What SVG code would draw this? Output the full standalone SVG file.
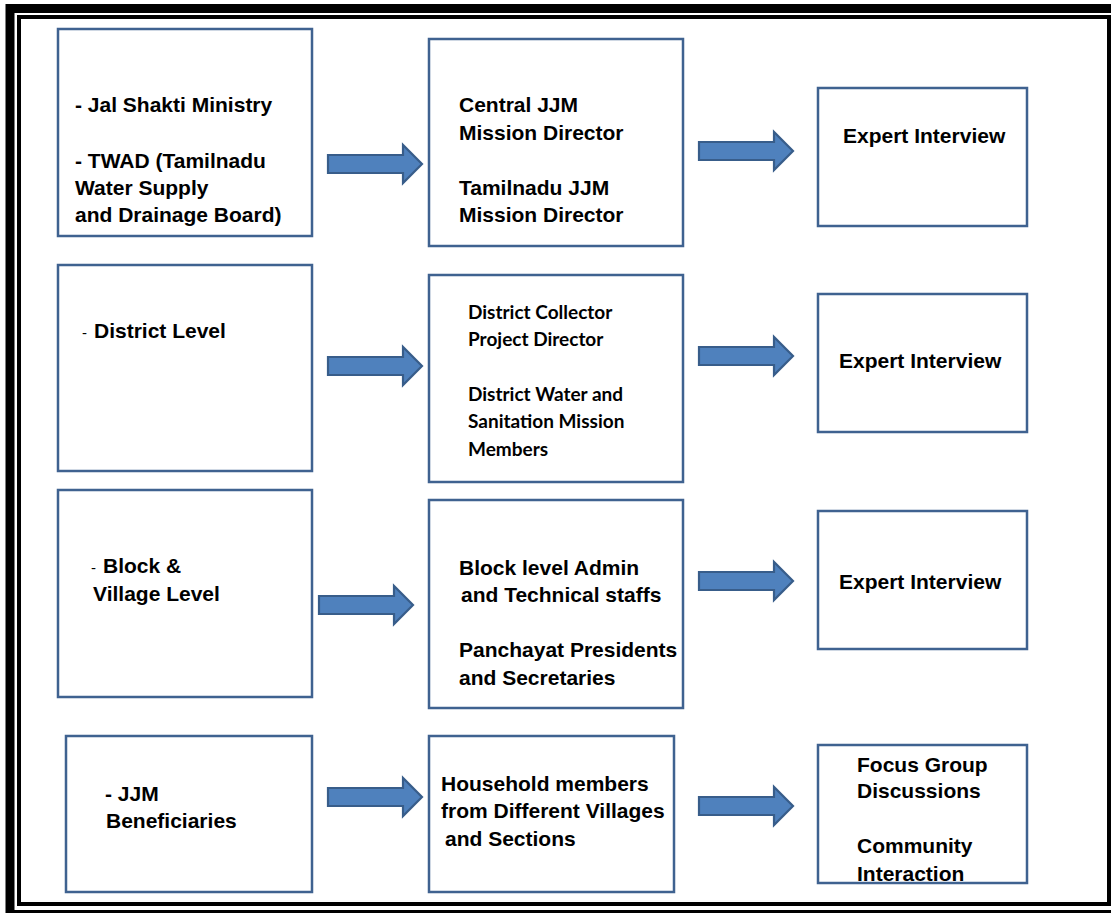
<svg xmlns="http://www.w3.org/2000/svg" width="1111" height="913" viewBox="0 0 1111 913">
<style>
.box{fill:#fff;stroke:#3F6290;stroke-width:2.5}
.arr{fill:#4F81BD;stroke:#385D8A;stroke-width:2.2;stroke-linejoin:miter}
.t{font-family:"Liberation Sans",Arial,sans-serif;font-weight:bold;font-size:21px;fill:#000}
.c{font-family:Lato,"Open Sans",sans-serif;font-weight:bold;font-size:19px;fill:#000}
.d{font-family:"Liberation Sans",Arial,sans-serif;font-size:15px;fill:#000}
</style>
<defs>
<path id="arrow" d="M0,-9 H75 V-19 L94,0 L75,19 V9 H0 Z"/>
</defs>
<rect width="1111" height="913" fill="#fff"/>
<g id="frame">
<rect x="10" y="8.5" width="1106" height="906" fill="none" stroke="#000" stroke-width="9"/>
<rect x="19" y="17" width="1090" height="887" fill="none" stroke="#000" stroke-width="4"/>
</g>

<g id="connectors">
<use href="#arrow" class="arr" x="328" y="164"/>
<use href="#arrow" class="arr" x="699" y="151"/>
<use href="#arrow" class="arr" x="328" y="366"/>
<use href="#arrow" class="arr" x="699" y="356"/>
<use href="#arrow" class="arr" x="319" y="605"/>
<use href="#arrow" class="arr" x="699" y="581"/>
<use href="#arrow" class="arr" x="328" y="797"/>
<use href="#arrow" class="arr" x="699" y="806"/>
</g>

<g id="n1a">
<rect class="box" x="58" y="29" width="254" height="207"/>
<text class="t" x="75" y="112">- Jal Shakti Ministry</text>
<text class="t" x="75" y="168">- TWAD (Tamilnadu</text>
<text class="t" x="75" y="195">Water Supply</text>
<text class="t" x="75" y="222">and Drainage Board)</text>
</g>
<g id="n1b">
<rect class="box" x="429" y="39" width="254" height="207"/>
<text class="t" x="459" y="112">Central JJM</text>
<text class="t" x="459" y="140">Mission Director</text>
<text class="t" x="459" y="195">Tamilnadu JJM</text>
<text class="t" x="459" y="222">Mission Director</text>
</g>
<g id="n1c">
<rect class="box" x="818" y="88" width="209" height="138"/>
<text class="t" x="843" y="143">Expert Interview</text>
</g>

<g id="n2a">
<rect class="box" x="58" y="265" width="254" height="206"/>
<text x="82" y="338"><tspan class="d">-</tspan><tspan class="t" x="94">District Level</tspan></text>
</g>
<g id="n2b">
<rect class="box" x="429" y="275" width="254" height="207"/>
<text class="c" x="468" y="319">District Collector</text>
<text class="c" x="468" y="346">Project Director</text>
<text class="c" x="468" y="401">District Water and</text>
<text class="c" x="468" y="428">Sanitation Mission</text>
<text class="c" x="468" y="456">Members</text>
</g>
<g id="n2c">
<rect class="box" x="818" y="294" width="209" height="138"/>
<text class="t" x="839" y="368">Expert Interview</text>
</g>

<g id="n3a">
<rect class="box" x="58" y="490" width="254" height="207"/>
<text x="91" y="573"><tspan class="d">-</tspan><tspan class="t" x="103">Block &amp;</tspan></text>
<text class="t" x="93" y="601">Village Level</text>
</g>
<g id="n3b">
<rect class="box" x="429" y="500" width="254" height="208"/>
<text class="t" x="459" y="575">Block level Admin</text>
<text class="t" x="461" y="602">and Technical staffs</text>
<text class="t" x="459" y="657">Panchayat Presidents</text>
<text class="t" x="459" y="685">and Secretaries</text>
</g>
<g id="n3c">
<rect class="box" x="818" y="511" width="209" height="138"/>
<text class="t" x="839" y="589">Expert Interview</text>
</g>

<g id="n4a">
<rect class="box" x="66" y="736" width="246" height="156"/>
<text class="t" x="105" y="801">- JJM</text>
<text class="t" x="106" y="828">Beneficiaries</text>
</g>
<g id="n4b">
<rect class="box" x="429" y="736" width="245" height="156"/>
<text class="t" x="441" y="791">Household members</text>
<text class="t" x="441" y="818">from Different Villages</text>
<text class="t" x="445" y="846">and Sections</text>
</g>
<g id="n4c">
<rect class="box" x="818" y="745" width="209" height="138"/>
<text class="t" x="857" y="772">Focus Group</text>
<text class="t" x="857" y="798">Discussions</text>
<text class="t" x="857" y="853">Community</text>
<text class="t" x="857" y="881">Interaction</text>
</g>
</svg>
